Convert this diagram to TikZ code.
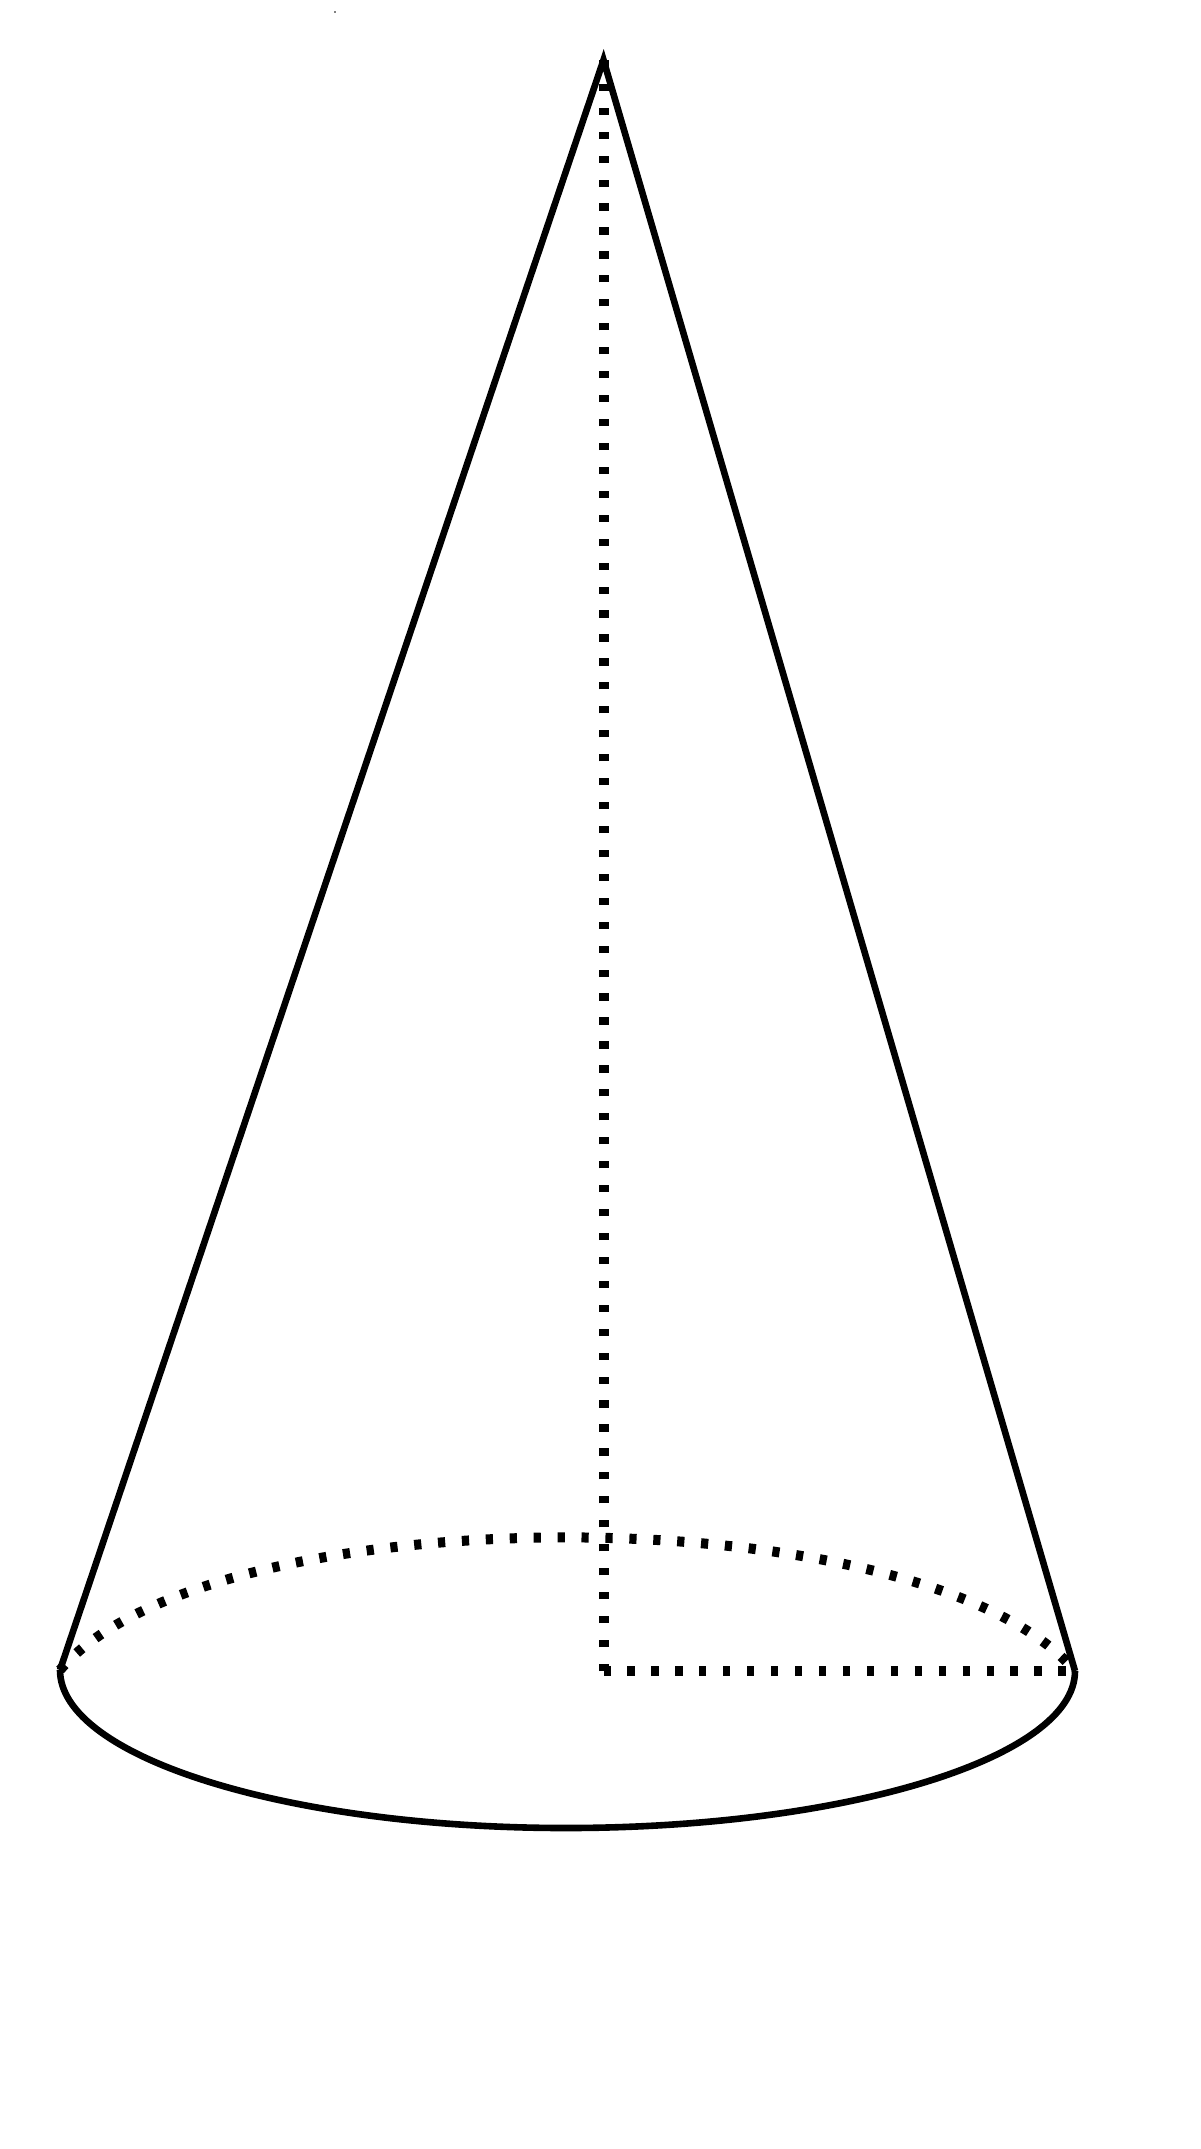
\documentclass[tikz,border=0pt]{standalone}
\tikzset{
  solidline/.style={draw=black,line width=6.6pt,miter limit=20},
  dotline/.style={draw=black,line width=10pt,dash pattern=on 7.2pt off 16.74pt}
}
\begin{document}
\begin{tikzpicture}[x=1pt,y=-1pt]
\useasboundingbox[fill=white] (0,0) rectangle (1200,2149);
\coordinate (apex) at (603.5,60);
\coordinate (left) at (60,1670);
\coordinate (right) at (1075,1671);
\coordinate (centre) at (603.5,1671);
\coordinate (bottom) at (566,1828);
\draw[dotline] (centre) -- (apex);
\draw[dotline] (centre) -- (right);
\draw[dotline] (left) .. controls (210,1493) and (925,1493) .. (right);
\draw[solidline] (left) -- (apex) -- (right);
\draw[solidline] (left) .. controls (60,1757) and (287,1828) .. (bottom) .. controls (845,1828) and (1075,1758) .. (right);
\fill (335,12) circle (0.8pt);
\end{tikzpicture}
\end{document}
